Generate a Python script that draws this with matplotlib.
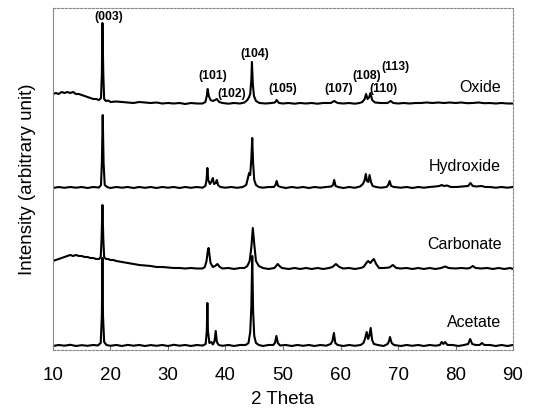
import matplotlib.pyplot as plt

# XRD patterns, (2theta, intensity above own baseline)
acetate = [
    (10, 0), (11, 1), (12, 0.3), (13, 1.2), (14, 0), (15, 0.8), (16, 0.2), (17, 1), (17.8, 0.5),
    (18.3, 3), (18.5, 30), (18.6, 88), (18.7, 30), (18.9, 4), (19.3, 1), (20, 0.2), (21, 1), (22, 0),
    (23, 1.1), (24, 0.3), (25, 1), (26, 0), (27, 0.9), (28, 0.2), (29, 1), (30, 0), (31, 1.2), (32, 0.3),
    (33, 1), (34, 0), (35, 1), (36, 0.4), (36.55, 2), (36.75, 15), (36.85, 43), (36.95, 15), (37.2, 3),
    (37.55, 4), (37.8, 1.5), (38.1, 5), (38.3, 15), (38.5, 4), (38.8, 1), (39.5, 0.2), (40.5, 1),
    (41.5, 0), (42.5, 1), (43.5, 1), (44.0, 3), (44.3, 14), (44.5, 40), (44.65, 90), (44.8, 35),
    (45.0, 10), (45.3, 3), (45.8, 1), (46.5, 0), (47.5, 1), (48.3, 1), (48.6, 3), (48.85, 10), (49.1, 3),
    (49.5, 0.5), (50.5, 1), (51.5, 0), (52.5, 1), (53.5, 0.2), (54.5, 1), (55.5, 0), (56.5, 1),
    (57.5, 0.3), (58.3, 2), (58.6, 5), (58.85, 13), (59.1, 3), (59.5, 1), (60.5, 0), (61.5, 1),
    (62.5, 0.2), (63.5, 1), (64.0, 3), (64.3, 8), (64.55, 14), (64.8, 7), (65.0, 10), (65.25, 18),
    (65.5, 6), (65.8, 2), (66.5, 1), (67.5, 0), (68.2, 2), (68.45, 5), (68.6, 9), (68.9, 3), (69.3, 1),
    (70.5, 0), (71.5, 1), (72.5, 0.2), (73.5, 1), (74.5, 0), (75.5, 1), (76.5, 0.3), (77.3, 1),
    (77.6, 4), (77.9, 2), (78.2, 4), (78.6, 1), (79.5, 1), (80.5, 0), (81.5, 1), (82.2, 2), (82.55, 7),
    (82.9, 2), (83.5, 1), (84.2, 1), (84.6, 3), (85.0, 1), (86, 1), (87, 0), (88, 1), (89, 0), (90, 1),
]

carbonate = [
    (10, 8), (10.5, 9), (11, 10), (11.5, 11), (12, 12), (12.5, 13), (13, 14), (13.5, 13), (14, 14),
    (14.5, 13), (15, 13), (15.5, 12), (16, 12), (16.5, 11), (17, 11), (17.5, 10), (18, 10), (18.3, 12),
    (18.45, 30), (18.6, 64), (18.75, 30), (18.9, 12), (19.2, 10), (19.6, 10), (20, 9), (20.5, 9),
    (21, 8), (22, 7), (23, 6), (24, 5), (25, 4), (26, 3.5), (27, 3), (28, 2), (29, 2), (30, 1.5),
    (31, 1), (32, 1), (33, 0.5), (34, 1), (35, 0.5), (36, 0.5), (36.4, 2), (36.7, 8), (36.9, 17),
    (37.05, 21), (37.2, 15), (37.4, 6), (37.8, 2), (38.2, 3), (38.6, 5), (39.0, 2), (39.5, 0.5),
    (40.5, 1), (41.5, 0), (42.5, 1), (43.3, 1), (43.8, 3), (44.2, 8), (44.5, 22), (44.75, 41),
    (45.0, 25), (45.3, 8), (45.8, 3), (46.5, 1), (47.5, 0), (48.5, 1), (48.8, 3), (49.1, 5), (49.4, 3),
    (49.8, 1), (51, 0), (52, 1), (53, 0), (54, 1), (55, 0), (56, 1), (57, 0), (58, 1), (58.6, 2),
    (59.2, 5), (59.8, 2), (60.5, 0.5), (61.5, 1), (62.5, 0), (63.5, 1), (64.0, 2), (64.5, 6),
    (64.8, 8), (65.2, 6), (65.6, 9), (65.8, 10), (66.2, 5), (66.7, 1), (67.5, 1), (68.5, 1.5),
    (69.1, 4), (69.7, 1), (70.5, 0.5), (71.5, 1), (72.5, 0), (73.5, 1), (74.5, 0), (75.5, 1),
    (76.5, 0), (77.5, 1), (78.2, 2.5), (78.8, 1), (80, 0.5), (81, 1), (82, 0.5), (82.5, 1), (83, 3),
    (83.5, 1), (84.5, 0.5), (85.5, 1), (86.5, 0), (87.5, 1), (88.5, 0), (89.5, 1), (90, 0),
]

hydroxide = [
    (10, 0), (11, 1), (12, 0.2), (13, 1), (14, 0.3), (15, 1), (16, 0), (17, 1), (18, 0.5), (18.35, 3),
    (18.5, 25), (18.65, 73), (18.8, 25), (19.0, 3), (19.4, 1), (20, 0), (21, 1), (22, 0.3), (23, 1),
    (24, 0), (25, 1), (26, 0.2), (27, 1), (28, 0), (29, 1), (30, 0.3), (31, 1), (32, 0), (33, 1),
    (34, 0.2), (35, 1), (36, 0.3), (36.5, 2), (36.7, 8), (36.85, 20), (37.0, 8), (37.3, 4), (37.6, 7),
    (37.8, 10), (38.0, 4), (38.3, 5), (38.5, 8), (38.7, 3), (39.1, 1), (40, 0.3), (41, 1), (42, 0.2),
    (43, 1), (43.6, 3), (43.9, 10), (44.1, 15), (44.3, 13), (44.5, 30), (44.65, 50), (44.8, 25),
    (45.0, 8), (45.3, 3), (45.8, 1), (46.5, 0.3), (47.5, 1), (48.4, 1), (48.7, 3), (48.9, 7),
    (49.15, 2), (49.6, 1), (50.5, 0), (51.5, 1), (52.5, 0.2), (53.5, 1), (54.5, 0), (55.5, 1),
    (56.5, 0.3), (57.5, 1), (58.4, 1.5), (58.7, 3), (58.9, 8), (59.15, 2), (59.6, 1), (60.5, 0),
    (61.5, 1), (62.5, 0.2), (63.4, 1.5), (63.9, 4), (64.2, 8), (64.4, 14), (64.6, 7), (64.85, 6),
    (65.05, 13), (65.3, 6), (65.6, 2), (66.2, 1), (67, 0.3), (68, 1), (68.3, 3), (68.55, 7), (68.8, 2),
    (69.3, 1), (70.5, 0.3), (71.5, 1), (72.5, 0), (73.5, 1), (74.5, 0.3), (75.5, 1), (76.5, 1.5),
    (77.2, 2), (77.6, 3), (78, 2), (78.5, 2.5), (79.2, 1), (80.2, 1), (81.2, 1.5), (82.2, 2),
    (82.6, 5), (83.0, 2), (83.6, 1.5), (84.5, 2), (85.2, 1), (86, 1), (87, 0.3), (88, 1), (89, 0.3),
    (90, 1),
]

oxide = [
    (10, 10), (10.5, 11), (11, 10), (11.5, 12), (12, 11), (12.5, 12), (13, 11), (13.5, 12), (14, 10),
    (14.5, 10), (15, 9), (15.5, 8), (16, 7), (16.5, 6), (17, 5), (17.5, 5), (18, 4), (18.35, 6),
    (18.5, 30), (18.6, 81), (18.75, 30), (18.9, 5), (19.2, 3), (19.6, 3.5), (20, 2), (21, 2.5),
    (22, 2), (23, 1.5), (24, 1), (25, 2), (26, 1.5), (27, 1), (28, 1.5), (29, 0.5), (30, 1),
    (31, 0.5), (32, 1), (33, 0), (34, 1), (35, 0.5), (36, 0.5), (36.5, 2), (36.75, 8), (36.9, 15),
    (37.1, 8), (37.4, 4), (37.8, 3), (38.2, 4), (38.5, 5), (38.9, 2), (39.5, 1), (40.5, 0.3),
    (41.5, 1), (42.5, 0.5), (43.3, 1.5), (43.8, 4), (44.1, 7), (44.3, 10), (44.5, 25), (44.6, 42),
    (44.75, 20), (44.95, 8), (45.3, 3), (45.9, 1), (47, 0.5), (48, 1), (48.6, 1.5), (48.9, 4),
    (49.3, 1), (50, 0.5), (51, 1), (52, 0.3), (53, 1), (54, 0.5), (55, 1), (56, 0.3), (57, 1),
    (58.3, 1), (58.9, 3), (59.5, 1), (60.5, 0.5), (61.5, 1), (62.5, 0.3), (63.3, 1), (63.8, 2),
    (64.2, 5), (64.45, 10), (64.7, 5), (65.0, 7), (65.2, 11), (65.5, 4), (66.0, 1.5), (67, 1),
    (68.2, 1), (68.7, 3), (69.2, 1), (70, 0.5), (71, 1), (72, 0.5), (73, 1), (74, 1), (75, 1.5),
    (76, 1), (77, 1.5), (78, 1), (79, 1.5), (80, 1), (81, 1.5), (82, 0.8), (83, 1), (84, 1.5),
    (85, 0.8), (86, 1), (87, 0.5), (88, 1), (89, 0.5), (90, 0.5),
]

samples = ["Acetate", "Carbonate", "Hydroxide", "Oxide"]
patterns = [acetate, carbonate, hydroxide, oxide]
offsets = [4, 81, 162, 246]
name_pos = [(83.2, 27), (81.5, 105), (81.65, 183), (84.3, 263)]

# Miller indices on the oxide pattern
hkl = ["(003)", "(101)", "(102)", "(104)", "(105)", "(107)", "(108)", "(113)", "(110)"]
hkl_pos = [(19.74, 333), (37.8, 274), (41.0, 256), (45.1, 296), (50.0, 261),
           (59.6, 261), (64.6, 274), (69.5, 283), (67.4, 261)]

plt.rcParams["font.family"] = ["Liberation Sans", "DejaVu Sans"]

fig = plt.figure(figsize=(5.33, 4.17), dpi=100)
ax = fig.add_axes([0.0994, 0.1607, 0.8631, 0.8201])

for pat, off in zip(patterns, offsets):
    xs = [p[0] for p in pat]
    ys = [p[1] + off for p in pat]
    ax.plot(xs, ys, color="black", lw=1.5, solid_joinstyle="round")

for name, (x, y) in zip(samples, name_pos):
    ax.text(x, y, name, fontsize=11.5, ha="center", va="center")

for lab, (x, y) in zip(hkl, hkl_pos):
    ax.text(x, y, lab, fontsize=8.8, fontweight="bold", ha="center", va="center")

ax.set_xlim(10, 90)
ax.set_ylim(0, 342)
ax.set_xticks([10, 20, 30, 40, 50, 60, 70, 80, 90])
ax.set_yticks([])
ax.tick_params(axis="x", direction="in", length=3, color="#777777", labelsize=13.5, pad=12)
for side in ["top", "right", "bottom"]:
    ax.spines[side].set_linestyle((0, (2, 1.5)))
for side in ax.spines:
    ax.spines[side].set_color("#888888")
    ax.spines[side].set_linewidth(0.8)

ax.set_xlabel("2 Theta", fontsize=13.5, labelpad=5)
ax.set_ylabel("Intensity (arbitrary unit)", fontsize=13.5, labelpad=12)

plt.savefig("out.png", dpi=100)
